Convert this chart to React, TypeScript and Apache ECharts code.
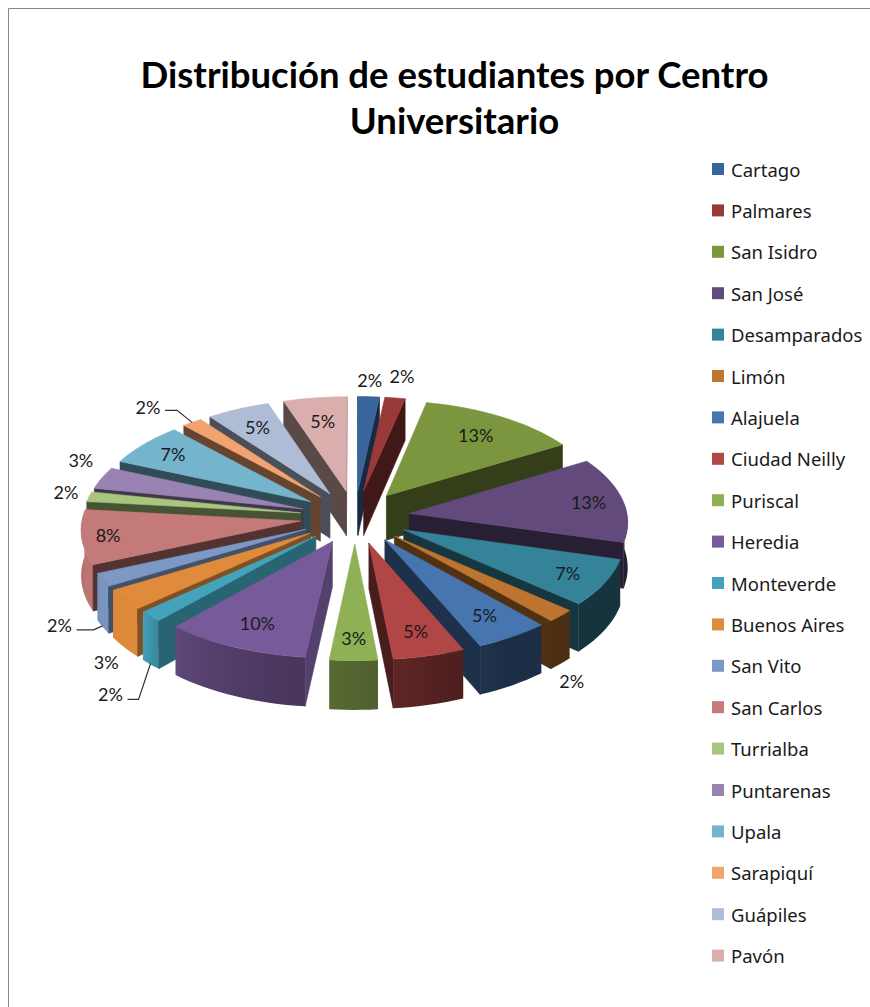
import React, { useEffect, useRef } from "react";
import * as echarts from "echarts";

const categories = ["Cartago","Palmares","San Isidro","San José","Desamparados","Limón","Alajuela","Ciudad Neilly","Puriscal","Heredia","Monteverde","Buenos Aires","San Vito","San Carlos","Turrialba","Puntarenas","Upala","Sarapiquí","Guápiles","Pavón"];
const values = [1.7,1.6,12.7,12.9,7,1.9,5,4.8,3.2,9.7,1.6,3.1,2.0,8.2,1.5,3.3,6.45,1.6,5.0,5.0];
const colors = ["#38659a","#9a3a38","#7b963f","#624a7c","#358399","#bf7530","#4775b0","#b04645","#8fb054","#775a99","#43a3ba","#e08b3b","#7c98c5","#c47a78","#a9c67f","#9a83b3","#74b4cc","#f2a36f","#afbcd6","#d9aeac"];

// Layout of the drawing (not data)
const CX = 355, CY = 517, EXPLODE = 55, R = 218, K = 0.48, P = 0.00032, DEPTH = 45;
const FONT = "Lato";
// radial position of inside labels (fraction of R beyond the explode offset)
const labelFrac: Record<number, number> = { 2: 0.76, 3: 0.84, 4: 0.82, 6: 0.79, 7: 0.79, 8: 0.82, 9: 0.78, 13: 0.88, 16: 0.82, 18: 0.78, 19: 0.74 };
// outside labels: offset from the slice's outer mid point, with optional leader
const outside: Record<number, { dx: number; dy: number; elbow?: [number, number]; end?: [number, number] }> = {
  0: { dx: 1, dy: -17 },
  1: { dx: 7, dy: -22 },
  5: { dx: 11, dy: 65 },
  10: { dx: -40, dy: 78, elbow: [-12, 83], end: [0, 47] },
  11: { dx: -18, dy: 62 },
  12: { dx: -43, dy: 45, elbow: [-9, 50], end: [0, 46] },
  14: { dx: -23, dy: -5 },
  15: { dx: -21, dy: -18 },
  17: { dx: -44, dy: -15, elbow: [-15, -12], end: [0, 0] },
};
// brightness of the outer wall by compass angle of the rim (degrees, clockwise from the top)
const outerShade: [number, number][] = [[0,0.4],[150,0.4],[165,0.48],[180,0.58],[200,0.65],[220,0.78],[228,1],[270,0.92],[360,0.85]];

const total = values.reduce((a, b) => a + b, 0);
const edges: number[] = [];
values.reduce((acc, v, i) => {
  edges[i] = (acc / total) * Math.PI * 2;
  return acc + v;
}, 0);
const slices = values.map((v, i) => {
  const a0 = edges[i];
  const a1 = a0 + (v / total) * Math.PI * 2;
  return { a0, a1, mid: (a0 + a1) / 2, pct: Math.round((v / total) * 100) + "%" };
});

function project(u: number, v: number, h = 0): [number, number] {
  const s = 1 / (1 - P * v);
  return [CX + u * s, CY + K * v * s + h * s];
}
function rim(sl: { mid: number }, a: number, h = 0, r = R) {
  const ox = Math.sin(sl.mid) * EXPLODE, oy = -Math.cos(sl.mid) * EXPLODE;
  return project(ox + Math.sin(a) * r, oy - Math.cos(a) * r, h);
}
function shade(hex: string, f: number) {
  const n = parseInt(hex.slice(1), 16);
  const c = [(n >> 16) & 255, (n >> 8) & 255, n & 255].map((x) => Math.round(x * f));
  return `rgb(${c[0]},${c[1]},${c[2]})`;
}
function outerFactor(a: number) {
  const d = (a * 180) / Math.PI;
  for (let i = 1; i < outerShade.length; i++) {
    if (d <= outerShade[i][0]) {
      const [d0, f0] = outerShade[i - 1];
      const [d1, f1] = outerShade[i];
      return f0 + ((d - d0) / (d1 - d0)) * (f1 - f0);
    }
  }
  return 0.85;
}
function wallFactor(sl: { mid: number }, isStart: boolean) {
  const d = (sl.mid * 180) / Math.PI;
  if (isStart && d > 180 && d < 245) return 0.82 - ((d - 180) / 65) * 0.3;
  return 0.42;
}
const sample = (a0: number, a1: number) => {
  const n = Math.max(3, Math.ceil((a1 - a0) / 0.04));
  return Array.from({ length: n + 1 }, (_, j) => a0 + ((a1 - a0) * j) / n);
};
const RAD = Math.PI / 180;

function renderSlice(i: number) {
  const sl = slices[i];
  const col = colors[i];
  const poly = (points: number[][], fill: any) => ({
    type: "polygon",
    silent: true,
    shape: { points },
    style: { fill, stroke: typeof fill === "string" ? fill : undefined, lineWidth: 0.6 },
  });
  const children: any[] = [];
  const angs = sample(sl.a0, sl.a1);
  const top = angs.map((a) => rim(sl, a));
  // outer wall (front half only) with a horizontal gradient following the rim
  const oa = Math.max(sl.a0, 85 * RAD), ob = Math.min(sl.a1, 275 * RAD);
  if (oa < ob) {
    const oAngs = sample(oa, ob);
    const oTop = oAngs.map((a) => rim(sl, a));
    const oBottom = oAngs.map((a) => rim(sl, a, DEPTH)).reverse();
    const xs = oTop.map((p) => p[0]);
    const minX = Math.min(...xs), maxX = Math.max(...xs);
    const span = Math.max(1, maxX - minX);
    const stops = oAngs
      .map((a, j) => ({ offset: (xs[j] - minX) / span, color: shade(col, outerFactor(a)) }))
      .sort((p, q) => p.offset - q.offset);
    children.push(poly([...oTop, ...oBottom], { type: "linear", global: true, x: minX, y: 0, x2: maxX, y2: 0, colorStops: stops }));
  }
  // radial walls, only when they face the viewer
  const tip = rim(sl, sl.a0, 0, 0);
  const midRim = rim(sl, sl.mid);
  [sl.a0, sl.a1].forEach((edge, k) => {
    const c = rim(sl, edge);
    const side = (p: number[]) => (c[0] - tip[0]) * (p[1] - tip[1]) - (c[1] - tip[1]) * (p[0] - tip[0]);
    if (side([tip[0], tip[1] + DEPTH]) * side(midRim) < 0) {
      children.push(poly([tip, c, rim(sl, edge, DEPTH), rim(sl, edge, DEPTH, 0)], shade(col, wallFactor(sl, k === 0))));
    }
  });
  // top face
  children.push(poly([tip, ...top], col));
  return { type: "group", children };
}

function renderLabel(i: number) {
  const sl = slices[i];
  const out = outside[i];
  const base = rim(sl, sl.mid);
  const pos = out
    ? [base[0] + out.dx, base[1] + out.dy]
    : rim(sl, sl.mid, 0, (labelFrac[i] ?? 0.78) * R);
  const children: any[] = [
    {
      type: "text",
      silent: true,
      x: pos[0],
      y: pos[1],
      style: { text: sl.pct, fill: "#1a1a1a", font: `400 18px ${FONT}, sans-serif`, textAlign: "center", textVerticalAlign: "middle" },
    },
  ];
  if (out && out.elbow && out.end) {
    const startX = pos[0] + (out.dx < 0 ? 17 : -17);
    children.push({
      type: "polyline",
      silent: true,
      shape: { points: [[startX, base[1] + out.elbow[1]], [base[0] + out.elbow[0], base[1] + out.elbow[1]], [base[0] + out.end[0], base[1] + out.end[1]]] },
      style: { fill: "none", stroke: "#333333", lineWidth: 1.2 },
    });
  }
  return { type: "group", children };
}

const depthOrder = slices.map((s, i) => ({ i, v: -Math.cos(s.mid) })).sort((a, b) => a.v - b.v).map((o) => o.i);

export default function App() {
  const ref = useRef<HTMLDivElement>(null);
  useEffect(() => {
    const chart = echarts.init(ref.current!, undefined, { renderer: "svg" });
    const sliceSeries = categories.map((name, i) => ({
      type: "custom",
      name,
      coordinateSystem: "none",
      z: 2 + depthOrder.indexOf(i) / 10,
      itemStyle: { color: colors[i] },
      data: [[values[i]]],
      renderItem: () => renderSlice(i),
    }));
    chart.setOption({
      animation: false,
      backgroundColor: "#ffffff",
      title: {
        text: "Distribución de estudiantes por Centro\nUniversitario",
        left: 449.5,
        top: 46,
        textAlign: "center",
        textStyle: { fontFamily: FONT, fontWeight: "bold", fontSize: 36.5, lineHeight: 46, color: "#000000" },
      },
      legend: {
        orient: "vertical",
        left: 707,
        top: 154,
        itemWidth: 12,
        itemHeight: 12,
        itemGap: 21.4,
        icon: "rect",
        selectedMode: false,
        data: categories,
        textStyle: { fontFamily: "Noto Sans", fontSize: 18.5, color: "#1a1a1a", lineHeight: 20, padding: [0, 0, 0, 2] },
      },
      graphic: [
        { type: "rect", silent: true, shape: { x: 8.5, y: 8.5, width: 900, height: 1100 }, style: { fill: "none", stroke: "#868686", lineWidth: 1 } },
      ],
      series: [
        ...sliceSeries,
        {
          type: "custom",
          name: "labels",
          coordinateSystem: "none",
          z: 10,
          data: values.map((v, i) => [i, v]),
          renderItem: (_: any, api: any) => renderLabel(api.value(0)),
        },
      ],
    });
    return () => chart.dispose();
  }, []);
  return <div ref={ref} style={{ position: "fixed", left: 0, top: 0, width: 870, height: 1007 }} />;
}
